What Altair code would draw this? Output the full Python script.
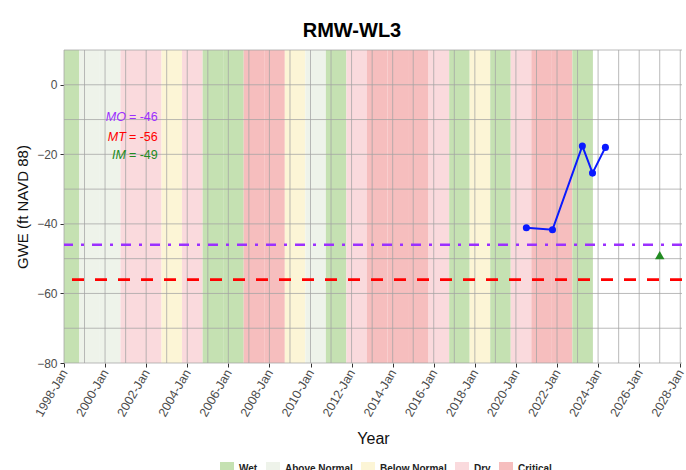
import altair as alt
import pandas as pd

# ---------------- data ----------------
wy_years = list(range(1998, 2024))
wy_types = ["Wet", "Above Normal", "Above Normal", "Dry", "Dry", "Below Normal", "Dry",
            "Wet", "Wet", "Critical", "Critical", "Below Normal", "Above Normal", "Wet",
            "Dry", "Critical", "Critical", "Critical", "Dry", "Wet", "Below Normal", "Wet",
            "Dry", "Critical", "Critical", "Wet"]
type_order = ["Wet", "Above Normal", "Below Normal", "Dry", "Critical"]

obs_dates = ["2020-07-05", "2021-10-12", "2023-03-27", "2023-09-24", "2024-05-10"]
obs_gwe = [-41.1, -41.7, -17.6, -25.4, -18.0]

thr_names = ["MO", "MT", "IM"]
thr_values = [-46, -56, -49]
label_y = [-9.3, -14.9, -20.1]
im_date = "2027-01-01"

grid_years = list(range(1998, 2029))
grid_gwe = list(range(-80, 11, 10))
tick_years = list(range(1998, 2029, 2))
ytick_values = [-80, -60, -40, -20, 0]

# ---------------- styles ----------------
FONT = "Liberation Sans"
band_colors = ["#c5e1b2", "#eef3ea", "#fcf5d6", "#fadadd", "#f6bebe"]
thr_colors = {"MO": "#9b30ff", "MT": "#ff0000", "IM": "#228b22"}
W, H = 618, 313

bands = pd.DataFrame({
    "wy": wy_years,
    "type": wy_types,
    "start": pd.to_datetime([f"{y-1}-10-01" for y in wy_years]),
    "end": pd.to_datetime([f"{y}-10-01" for y in wy_years]),
})
obs = pd.DataFrame({"date": pd.to_datetime(obs_dates), "gwe": obs_gwe})
gx = pd.DataFrame({"date": pd.to_datetime([f"{y}-01-01" for y in grid_years])})
gy = pd.DataFrame({"gwe": grid_gwe})
thr = pd.DataFrame({"name": thr_names, "value": thr_values, "ly": label_y,
                    "txt": [f"=  {v}" for v in thr_values],
                    "col": [thr_colors[n] for n in thr_names],
                    "date": pd.to_datetime(["2001-01-24"] * 3)})
im = pd.DataFrame({"date": pd.to_datetime([im_date]), "value": [thr_values[2]]})

xscale = alt.Scale(domain=[alt.DateTime(year=1998, month=1, date=1),
                           alt.DateTime(year=2028, month=2, date=1)], nice=False)
yscale = alt.Scale(domain=[-80, 10], nice=False, zero=False)

xaxis = alt.Axis(values=[alt.DateTime(year=y, month=1, date=1) for y in tick_years],
                 format="%Y-%b", labelAngle=300, labelAlign="right", labelBaseline="middle",
                 labelPadding=3, labelFontSize=12.5, labelColor="#4d4d4d", labelFont=FONT,
                 labelOverlap=False, labelFlush=False, labelBound=False,
                 tickSize=4, tickColor="#333333", domain=False, grid=False,
                 title="Year", titleFontSize=16, titleFontWeight="normal", titleFont=FONT,
                 titleColor="#111111", titleY=75, titleBaseline="middle")
yaxis = alt.Axis(values=ytick_values, labelFontSize=12, labelColor="#4d4d4d", labelFont=FONT,
                 labelPadding=3, tickSize=4, tickColor="#333333", domain=False, grid=False,
                 title="GWE (ft NAVD 88)", titleFontSize=15, titleFontWeight="normal",
                 titleFont=FONT, titleColor="#111111", titleAngle=270, titleX=-42,
                 titleY=H / 2, titleBaseline="middle", titleAlign="center")

band_layer = alt.Chart(bands).mark_rect(clip=True).encode(
    x=alt.X("start:T", scale=xscale, axis=xaxis),
    x2="end:T",
    y=alt.value(0), y2=alt.value(H),
    color=alt.Color("type:N", scale=alt.Scale(domain=type_order, range=band_colors),
                    legend=alt.Legend(orient="none", legendX=156, legendY=412,
                                      direction="horizontal", title=None,
                                      symbolType="square", symbolSize=196,
                                      symbolStrokeWidth=0, symbolOpacity=1,
                                      labelFontSize=10, labelFontWeight="bold",
                                      labelColor="#222222", labelFont=FONT,
                                      columnPadding=8, labelOffset=5, padding=0)),
)

gridx = alt.Chart(gx).mark_rule(color="#a3a3a3", strokeWidth=0.75).encode(
    x=alt.X("date:T", scale=xscale, axis=xaxis))
gridy = alt.Chart(gy).mark_rule(color="#a3a3a3", strokeWidth=0.75).encode(
    y=alt.Y("gwe:Q", scale=yscale, axis=yaxis))

mo_rule = alt.Chart(thr[thr.name == "MO"]).mark_rule(
    color=thr_colors["MO"], strokeWidth=2.6, strokeDash=[10, 8, 3, 8]).encode(
    y=alt.Y("value:Q", scale=yscale, axis=yaxis))
mt_rule = alt.Chart(thr[thr.name == "MT"]).mark_rule(
    color=thr_colors["MT"], strokeWidth=2.8, strokeDash=[12, 11]).encode(
    y=alt.Y("value:Q", scale=yscale, axis=yaxis))

line = alt.Chart(obs).mark_line(color="#0a1aff", strokeWidth=2).encode(
    x=alt.X("date:T", scale=xscale, axis=xaxis),
    y=alt.Y("gwe:Q", scale=yscale, axis=yaxis))
pts = alt.Chart(obs).mark_circle(color="#0a1aff", size=50, opacity=1).encode(
    x=alt.X("date:T", scale=xscale, axis=xaxis),
    y=alt.Y("gwe:Q", scale=yscale, axis=yaxis))

tri = alt.Chart(im).mark_point(shape="triangle-up", filled=True, size=90,
                               color=thr_colors["IM"], opacity=1).encode(
    x=alt.X("date:T", scale=xscale, axis=xaxis),
    y=alt.Y("value:Q", scale=yscale, axis=yaxis))

lab_name = alt.Chart(thr).mark_text(align="right", baseline="middle", fontSize=12.5,
                                    fontStyle="italic", font=FONT, dx=-1).encode(
    x=alt.X("date:T", scale=xscale, axis=xaxis),
    y=alt.Y("ly:Q", scale=yscale, axis=yaxis),
    text="name:N",
    color=alt.Color("col:N", scale=None))
lab_val = alt.Chart(thr).mark_text(align="left", baseline="middle", fontSize=12.5,
                                   font=FONT, dx=2).encode(
    x=alt.X("date:T", scale=xscale, axis=xaxis),
    y=alt.Y("ly:Q", scale=yscale, axis=yaxis),
    text="txt:N",
    color=alt.Color("col:N", scale=None))

chart = alt.layer(band_layer, gridx, gridy, mo_rule, mt_rule, line, pts, tri,
                  lab_name, lab_val).resolve_scale(color="independent").properties(
    width=W, height=H,
    autosize=alt.AutoSizeParams(type="none"),
    padding={"left": 64, "top": 50, "right": 4, "bottom": 107},
    title=alt.TitleParams("RMW-WL3", fontSize=20, fontWeight="bold", font=FONT,
                          color="black", anchor="middle", dx=-21, dy=17, offset=10,
                          baseline="alphabetic"),
    background="white",
).configure_view(stroke=None)

chart.save("out.html", embed_options={"renderer": "svg", "actions": False})
